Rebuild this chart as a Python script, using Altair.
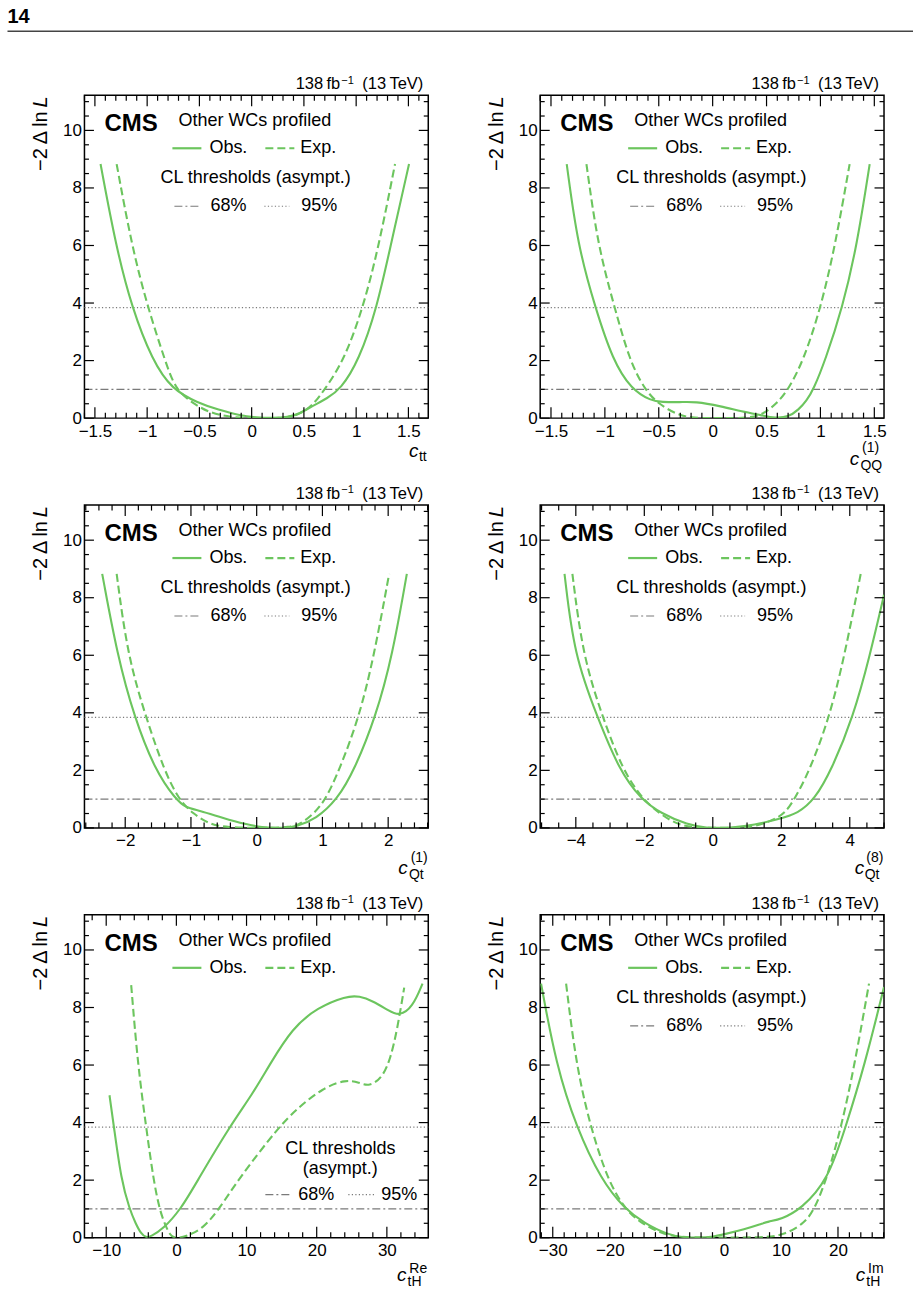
import altair as alt
import numpy as np
import pandas as pd

FONT = "Liberation Sans"
GREEN = "#6cc55e"
GRAY = "#7a7a7a"
W, H = 344, 323
Y_MAX = 11.22
THRESH_68 = 1.0
THRESH_95 = 3.84

# ---- likelihood scans: observed (solid) and expected (dashed) -2ΔlnL ----
ctt_obs_x = [-1.446, -1.30, -1.148, -0.95, -0.764, -0.509, -0.317, -0.125, 0.05, 0.2, 0.35, 0.45, 0.58, 0.72, 0.85, 1.026, 1.20, 1.33, 1.506]
ctt_obs_y = [8.83, 6.0, 3.85, 2.0, 1.0, 0.52, 0.29, 0.1, 0.02, 0.0, 0.03, 0.14, 0.42, 0.68, 1.0, 2.0, 3.85, 6.0, 8.83]
ctt_exp_x = [-1.292, -1.148, -0.995, -0.828, -0.732, -0.557, -0.4, -0.2, 0.0, 0.2, 0.35, 0.45, 0.58, 0.70, 0.883, 1.068, 1.218, 1.372]
ctt_exp_y = [8.83, 6.0, 3.85, 2.0, 1.0, 0.5, 0.18, 0.03, 0.0, 0.0, 0.03, 0.12, 0.42, 1.0, 2.0, 3.85, 6.0, 8.83]

cqq1_obs_x = [-1.354, -1.252, -1.09, -0.926, -0.755, -0.569, -0.476, -0.3, -0.166, 0.082, 0.27, 0.455, 0.58, 0.70, 0.80, 0.87, 0.936, 1.044, 1.205, 1.339, 1.457]
cqq1_obs_y = [8.83, 6.0, 3.85, 2.0, 1.0, 0.6, 0.56, 0.55, 0.58, 0.41, 0.23, 0.1, 0.0, 0.03, 0.3, 0.6, 1.0, 2.0, 3.85, 6.0, 8.83]
cqq1_exp_x = [-1.171, -1.066, -0.91, -0.771, -0.631, -0.507, -0.32, -0.17, 0.0, 0.15, 0.33, 0.455, 0.594, 0.703, 0.843, 1.004, 1.137, 1.271]
cqq1_exp_y = [8.83, 6.0, 3.85, 2.0, 1.0, 0.5, 0.1, 0.0, 0.0, 0.0, 0.01, 0.1, 0.5, 1.0, 2.0, 3.85, 6.0, 8.83]

cqt1_obs_x = [-2.35, -2.12, -1.863, -1.545, -1.235, -1.077, -0.875, -0.52, -0.165, 0.09, 0.29, 0.45, 0.6, 0.9, 1.23, 1.483, 1.81, 2.066, 2.284]
cqt1_obs_y = [8.83, 6.0, 3.85, 2.0, 1.0, 0.7, 0.61, 0.35, 0.12, 0.02, 0.0, 0.01, 0.05, 0.3, 1.0, 2.0, 3.85, 6.0, 8.83]
cqt1_exp_x = [-2.13, -1.965, -1.686, -1.407, -1.189, -0.976, -0.697, -0.42, -0.1, 0.2, 0.5, 0.646, 0.875, 1.052, 1.255, 1.56, 1.787, 2.015]
cqt1_exp_y = [8.83, 6.0, 3.85, 2.0, 1.0, 0.5, 0.1, 0.02, 0.0, 0.0, 0.03, 0.1, 0.5, 1.0, 2.0, 3.85, 6.0, 8.83]

cqt8_obs_x = [-4.33, -4.05, -3.37, -2.73, -2.10, -1.51, -0.73, -0.15, 0.2, 0.54, 1.22, 1.90, 2.49, 2.98, 3.46, 4.10, 4.59, 5.0]
cqt8_obs_y = [8.83, 6.0, 3.85, 2.0, 1.0, 0.5, 0.1, 0.0, 0.0, 0.01, 0.1, 0.3, 0.5, 1.0, 2.0, 3.85, 6.0, 8.1]
cqt8_exp_x = [-4.10, -3.80, -3.22, -2.63, -2.05, -1.56, -1.02, -0.44, 0.4, 1.22, 1.80, 2.10, 2.39, 2.83, 3.41, 3.85, 4.32]
cqt8_exp_y = [8.83, 6.0, 3.85, 2.0, 1.0, 0.5, 0.1, 0.0, 0.0, 0.02, 0.3, 0.5, 1.0, 2.0, 3.85, 6.0, 8.83]

cthre_obs_x = [-9.53, -8.9, -7.86, -6.68, -5.82, -5.0, -4.3, -3.6, -1.93, 0.68, 3.05, 7.56, 10.88, 13.25, 16.57, 20.13, 24.2, 26.1, 27.96, 30.33, 31.76, 33.65, 35.08]
cthre_obs_y = [4.95, 3.85, 2.0, 1.0, 0.5, 0.12, 0.0, 0.05, 0.29, 1.0, 2.0, 3.85, 5.0, 6.0, 7.3, 8.0, 8.4, 8.4, 8.23, 7.88, 7.7, 8.0, 8.83]
cthre_exp_x = [-6.44, -5.49, -4.31, -3.26, -2.41, -1.70, -0.9, -0.3, 0.4, 1.39, 3.76, 6.13, 8.74, 14.58, 17.28, 20.84, 24.16, 26.06, 27.48, 29.38, 30.57, 31.52, 32.47]
cthre_exp_y = [8.78, 6.0, 3.85, 2.0, 1.0, 0.5, 0.08, 0.0, 0.0, 0.05, 0.3, 1.0, 2.0, 3.85, 4.5, 5.2, 5.5, 5.39, 5.25, 5.56, 6.26, 7.3, 8.69]

cthim_obs_x = [-32.05, -29.4, -25.9, -21.5, -17.4, -13.9, -9.8, -6.9, -4.5, -2.2, 0.12, 3.6, 6.5, 7.7, 10.06, 13.57, 18.25, 21.35, 24.68, 28.07]
cthim_obs_y = [8.83, 6.0, 3.85, 2.0, 1.0, 0.5, 0.1, 0.0, 0.0, 0.02, 0.12, 0.29, 0.47, 0.56, 0.64, 1.0, 2.0, 3.85, 6.0, 8.71]
cthim_exp_x = [-27.66, -25.9, -23.4, -20.35, -17.4, -14.5, -11.0, -8.1, -3.0, 2.5, 7.7, 10.6, 14.15, 15.9, 17.95, 20.6, 22.9, 25.44]
cthim_exp_y = [8.83, 6.0, 3.85, 2.0, 1.0, 0.5, 0.15, 0.02, 0.0, 0.0, 0.02, 0.1, 0.5, 1.0, 2.0, 3.85, 6.0, 8.83]

# ---- axis ticks ----
Y_MAJOR = [0, 2, 4, 6, 8, 10]


def minor_ticks(lo, hi, step, majors):
    start = np.ceil(lo / step) * step
    vals = np.arange(start, hi + 1e-9, step)
    return [round(float(v), 6) for v in vals
            if all(abs(v - m) > step * 0.01 for m in majors)]


Y_MINOR = minor_ticks(0, Y_MAX, 0.5, Y_MAJOR)

# x-title pieces: (text, dx from right edge, dy below bottom, size, italic)
PANELS = [
    dict(obs=(ctt_obs_x, ctt_obs_y), exp=(ctt_exp_x, ctt_exp_y), xdom=[-1.6, 1.69],
         xmajor=[-1.5, -1, -0.5, 0, 0.5, 1, 1.5], xstep=0.1, fmt="~g",
         xtitle=[("c", -19.3, 39.3, 19, True), ("tt", -9.3, 42.6, 14, False)]),
    dict(obs=(cqq1_obs_x, cqq1_obs_y), exp=(cqq1_exp_x, cqq1_exp_y), xdom=[-1.6, 1.59],
         xmajor=[-1.5, -1, -0.5, 0, 0.5, 1, 1.5], xstep=0.1, fmt="~g",
         xtitle=[("c", -34.3, 46.6, 19, True), ("QQ", -23.6, 51.6, 14, False), ("(1)", -22.0, 34.3, 14, False)]),
    dict(obs=(cqt1_obs_x, cqt1_obs_y), exp=(cqt1_exp_x, cqt1_exp_y), xdom=[-2.62, 2.61],
         xmajor=[-2, -1, 0, 1, 2], xstep=0.2, fmt="d",
         xtitle=[("c", -30.0, 46.6, 19, True), ("Qt", -19.3, 51.6, 14, False), ("(1)", -17.6, 34.3, 14, False)]),
    dict(obs=(cqt8_obs_x, cqt8_obs_y), exp=(cqt8_exp_x, cqt8_exp_y), xdom=[-5.04, 5.0],
         xmajor=[-4, -2, 0, 2, 4], xstep=0.5, fmt="d",
         xtitle=[("c", -29.4, 46.6, 19, True), ("Qt", -19.4, 51.6, 14, False), ("(8)", -17.7, 34.3, 14, False)]),
    dict(obs=(cthre_obs_x, cthre_obs_y), exp=(cthre_exp_x, cthre_exp_y), xdom=[-13.1, 35.9],
         xmajor=[-10, 0, 10, 20, 30], xstep=2, fmt="d",
         xtitle=[("c", -31.3, 43.3, 19, True), ("tH", -20.7, 48.3, 14, False), ("Re", -19.0, 35.0, 14, False)]),
    dict(obs=(cthim_obs_x, cthim_obs_y), exp=(cthim_exp_x, cthim_exp_y), xdom=[-32.2, 28.07],
         xmajor=[-30, -20, -10, 0, 10, 20], xstep=2, fmt="d",
         xtitle=[("c", -28.4, 43.3, 19, True), ("tH", -17.7, 48.3, 14, False), ("Im", -16.0, 35.0, 14, False)]),
]

ONE = pd.DataFrame({"_": [0]})


def label(text, x, y, size=18, align="left", weight="normal", style="normal",
          angle=0, baseline="alphabetic"):
    return alt.Chart(ONE).mark_text(
        text=text, font=FONT, fontSize=size, align=align, baseline=baseline,
        fontWeight=weight, fontStyle=style, angle=angle, color="black"
    ).encode(x=alt.value(x), y=alt.value(y))


def sample(x1, x2, y, color, width=2.0, dash=None):
    kw = dict(color=color, strokeWidth=width)
    if dash is not None:
        kw["strokeDash"] = dash
    return alt.Chart(ONE).mark_rule(**kw).encode(
        x=alt.value(x1), x2=alt.value(x2), y=alt.value(y))


def build_panel(idx, p):
    xs = alt.Scale(domain=p["xdom"], nice=False, zero=False)
    ys = alt.Scale(domain=[0, Y_MAX], nice=False, zero=False)
    common = dict(title=None, ticks=False, tickSize=0, domain=False, grid=False,
                  labelFont=FONT, labelFontSize=17, labelColor="black",
                  labelOverlap=False)
    xaxis = alt.Axis(values=p["xmajor"], format=p["fmt"], labelPadding=5,
                     labelFlush=False, **common)
    yaxis = alt.Axis(values=Y_MAJOR, format="d", labelPadding=3, **common)

    def X(f):
        return alt.X(f"{f}:Q", scale=xs, axis=xaxis)

    def Y(f):
        return alt.Y(f"{f}:Q", scale=ys, axis=yaxis)

    layers = []
    # CL thresholds
    layers.append(alt.Chart(pd.DataFrame({"y": [THRESH_68]})).mark_rule(
        color=GRAY, strokeWidth=1.2, strokeDash=[8, 3, 2, 3]
    ).encode(y=Y("y"), x=alt.value(0), x2=alt.value(W)))
    layers.append(alt.Chart(pd.DataFrame({"y": [THRESH_95]})).mark_rule(
        color=GRAY, strokeWidth=1.2, strokeDash=[1.2, 2.3]
    ).encode(y=Y("y"), x=alt.value(0), x2=alt.value(W)))

    # scans (smooth B-spline through the sampled scan points)
    ex, ey = p["exp"]
    ox, oy = p["obs"]
    layers.append(alt.Chart(pd.DataFrame({"x": ex, "y": ey})).mark_line(
        color=GREEN, strokeWidth=2.1, strokeDash=[8, 4], interpolate="basis", clip=True
    ).encode(x=X("x"), y=Y("y")))
    layers.append(alt.Chart(pd.DataFrame({"x": ox, "y": oy})).mark_line(
        color=GREEN, strokeWidth=2.1, interpolate="basis", clip=True
    ).encode(x=X("x"), y=Y("y")))

    # inward ticks on all four sides
    xminor = minor_ticks(p["xdom"][0], p["xdom"][1], p["xstep"], p["xmajor"])
    for vals, ln in ((p["xmajor"], 11), (xminor, 5.5)):
        d = pd.DataFrame({"x": vals})
        layers.append(alt.Chart(d).mark_rule(color="black", strokeWidth=1.2).encode(
            x=X("x"), y=alt.value(H), y2=alt.value(H - ln)))
        layers.append(alt.Chart(d).mark_rule(color="black", strokeWidth=1.2).encode(
            x=X("x"), y=alt.value(0), y2=alt.value(ln)))
    for vals, ln in ((Y_MAJOR, 9.5), (Y_MINOR, 4.5)):
        d = pd.DataFrame({"y": vals})
        layers.append(alt.Chart(d).mark_rule(color="black", strokeWidth=1.2).encode(
            y=Y("y"), x=alt.value(0), x2=alt.value(ln)))
        layers.append(alt.Chart(d).mark_rule(color="black", strokeWidth=1.2).encode(
            y=Y("y"), x=alt.value(W), x2=alt.value(W - ln)))

    # luminosity label
    layers.append(label("138\u2009fb", W - 132.7, -6, size=16.5))
    layers.append(label("\u22121", W - 87, -11.7, size=11))
    layers.append(label("(13\u2009TeV)", W - 66, -6, size=16.5))

    # CMS label and legend
    layers.append(label("CMS", 20, 36, size=24, weight="bold"))
    layers.append(label("Other WCs profiled", 94, 31))
    layers.append(sample(88, 117, 53, GREEN, width=2.2))
    layers.append(label("Obs.", 125, 58))
    layers.append(sample(181, 210, 53, GREEN, width=2.2, dash=[8, 4]))
    layers.append(label("Exp.", 216, 58))
    if idx == 4:
        layers.append(label("CL thresholds", 256, 239, align="center"))
        layers.append(label("(asympt.)", 256, 259, align="center"))
        layers.append(sample(181, 207, 280, GRAY, width=1.2, dash=[8, 3, 2, 3]))
        layers.append(label("68%", 214, 285))
        layers.append(sample(264, 290, 280, GRAY, width=1.2, dash=[1.2, 2.3]))
        layers.append(label("95%", 297, 285))
    else:
        layers.append(label("CL thresholds (asympt.)", 76, 88))
        layers.append(sample(90, 115, 111, GRAY, width=1.2, dash=[8, 3, 2, 3]))
        layers.append(label("68%", 126, 116))
        layers.append(sample(180, 205, 111, GRAY, width=1.2, dash=[1.2, 2.3]))
        layers.append(label("95%", 217, 116))

    # y title: -2 Δ ln L (L italic), rotated
    layers.append(label("L", -37, 1, size=20, align="right", style="italic", angle=270))
    layers.append(label("\u22122\u2009\u0394\u2009ln", -37, 16, size=20, align="right", angle=270))

    # x title with sub/superscripts
    for text, dx, dy, size, italic in p["xtitle"]:
        layers.append(label(text, W + dx, H + dy, size=size,
                            style="italic" if italic else "normal"))

    # page header drawn above the first panel
    if idx == 0:
        layers.append(label("14", -77, -72, size=20, weight="bold"))
        layers.append(alt.Chart(ONE).mark_rule(color="#444444", strokeWidth=1.5).encode(
            x=alt.value(-77), x2=alt.value(829), y=alt.value(-64)))

    return alt.layer(*layers).properties(width=W, height=H)


charts = [build_panel(i, p) for i, p in enumerate(PANELS)]

chart = alt.concat(
    *charts, columns=2, spacing={"row": 87, "column": 112}, bounds="flush"
).properties(
    padding={"left": 5.5, "top": 6, "right": 5, "bottom": 5}
).configure(
    background="white", font=FONT
).configure_view(
    stroke="black", strokeWidth=1.5, fill="white"
)

chart.save("out.html", embed_options={"renderer": "svg", "actions": False})
